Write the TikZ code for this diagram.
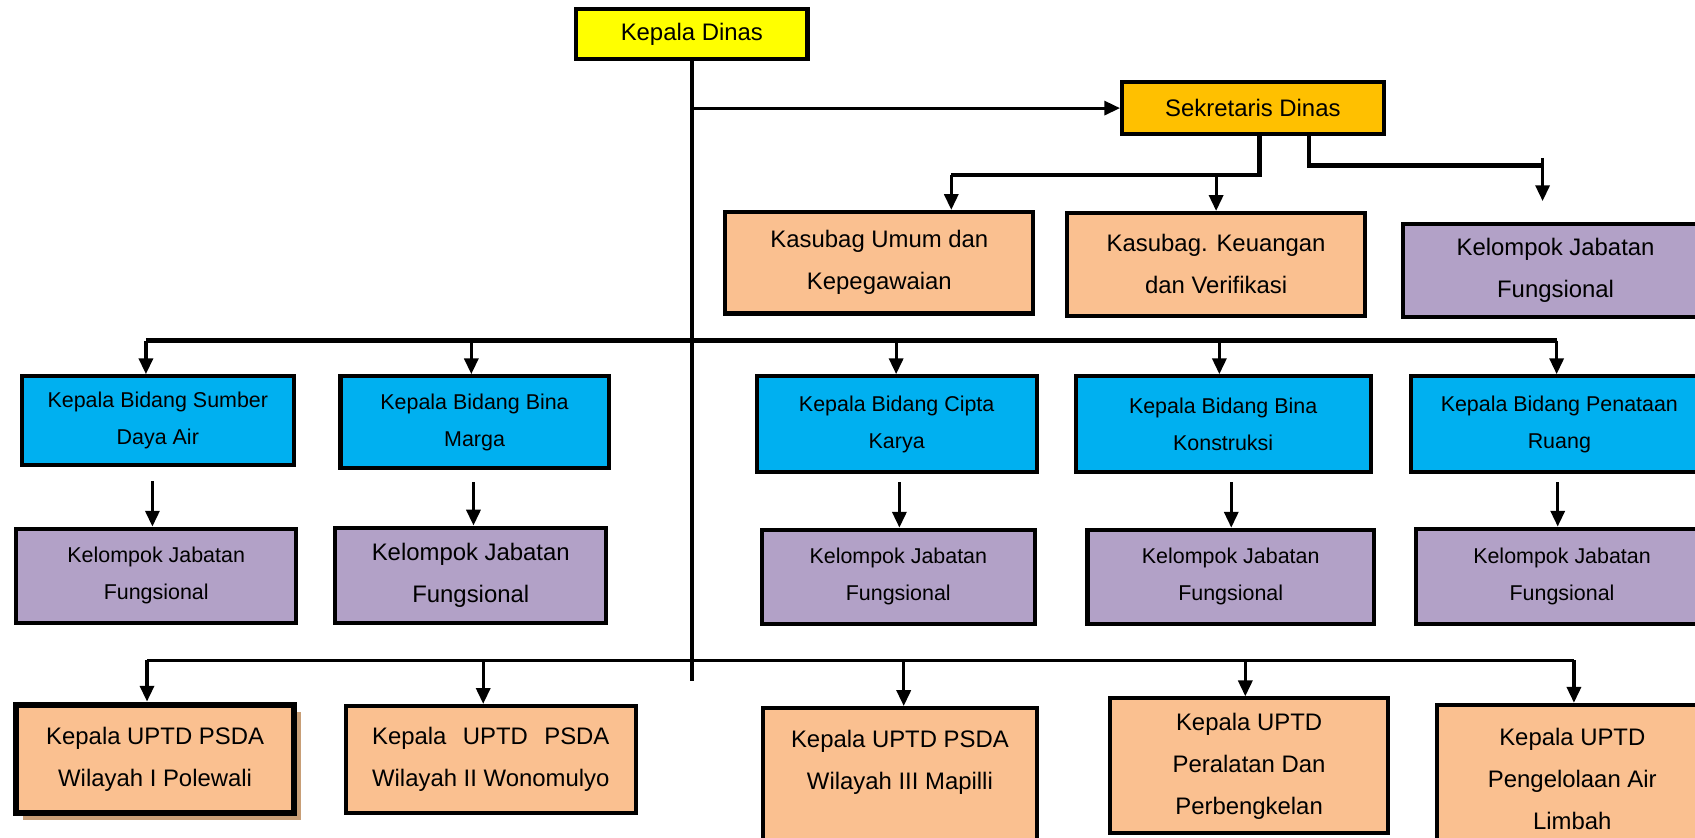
\documentclass[tikz,border=0pt]{standalone}
\usepackage{fontspec}
\setmainfont{Liberation Sans}
\usetikzlibrary{arrows.meta,shadows}

\definecolor{kdyellow}{RGB}{255,255,0}
\definecolor{sekorange}{RGB}{255,192,0}
\definecolor{peach}{RGB}{250,192,144}
\definecolor{lilac}{RGB}{178,161,199}
\definecolor{skyblue}{RGB}{0,176,240}
\definecolor{tanshadow}{RGB}{200,158,118}
\newlength\wonolen

\begin{document}
\begin{tikzpicture}[x=0.02162cm, y=-0.02162cm,
    box/.style={draw, line width=2.3pt, inner sep=0pt, align=center, font=\fontsize{13.6}{23.9}\selectfont},
    smallbox/.style={box, font=\fontsize{12.2}{20.9}\selectfont},
    wh/.style 2 args={minimum width=#1*0.02162cm, minimum height=#2*0.02162cm},
    wire/.style={line width=1.9pt},
    bus/.style={line width=2.9pt},
    arr/.style={-{Triangle[width=8pt,length=9pt]}, line width=1.8pt}]

    \useasboundingbox (0,0) rectangle (1568,775);
    \clip (0,0) rectangle (1568,775);

    % Top of the chart
    \node[box, fill=kdyellow, wh={214}{47}] (kd) at (640,31.5) {Kepala Dinas};
    \node[box, fill=sekorange, wh={242}{48}] (sd) at (1159,100) {Sekretaris Dinas};

    % Under the Sekretaris
    \node[box, fill=peach, wh={285}{94}] (ku) at (813.5,243) {Kasubag Umum dan\\Kepegawaian};
    \node[box, fill=peach, wh={276}{95}] (kk) at (1125,244.5) {Kasubag. Keuangan\\dan Verifikasi};
    \node[box, fill=lilac, wh={282}{86}] (kjf) at (1439,250) {Kelompok Jabatan\\Fungsional};

    % Kepala Bidang row
    \node[smallbox, fill=skyblue, wh={252}{82}] (sda) at (146,389) {Kepala Bidang Sumber\\Daya Air};
    \node[smallbox, fill=skyblue, wh={248}{85}] (bm) at (439,390.5) {Kepala Bidang Bina\\Marga};
    \node[smallbox, fill=skyblue, wh={259}{89}] (ck) at (829.5,392.5) {Kepala Bidang Cipta\\Karya};
    \node[smallbox, fill=skyblue, wh={273}{89}] (bk) at (1131.5,392.5) {Kepala Bidang Bina\\Konstruksi};
    \node[smallbox, fill=skyblue, wh={275}{89}] (pr) at (1442.5,392.5) {Kepala Bidang Penataan\\Ruang};

    % Kelompok Jabatan Fungsional row
    \node[smallbox, fill=lilac, wh={259}{87}] (fsda) at (144.5,532.5) {Kelompok Jabatan\\Fungsional};
    \node[box, fill=lilac, wh={251}{88}] (fbm) at (435.5,532) {Kelompok Jabatan\\Fungsional};
    \node[smallbox, fill=lilac, wh={252}{87}] (fck) at (831,533.5) {Kelompok Jabatan\\Fungsional};
    \node[smallbox, fill=lilac, wh={265}{87}] (fbk) at (1138.5,533.5) {Kelompok Jabatan\\Fungsional};
    \node[smallbox, fill=lilac, wh={270}{88}] (fpr) at (1445,533) {Kelompok Jabatan\\Fungsional};

    % UPTD row
    \node[box, fill=peach, line width=3.7pt, wh={257}{100},
        drop shadow={shadow xshift=4pt, shadow yshift=-4pt, fill=tanshadow, opacity=1}]
        (pol) at (143.5,702) {Kepala UPTD PSDA\\Wilayah I Polewali};
    \node[box, fill=peach, wh={268}{99}] (won) at (454,702.5)
        {\settowidth{\wonolen}{Wilayah II Wonomulyo}\makebox[\wonolen][s]{Kepala UPTD PSDA}\\Wilayah II Wonomulyo};
    \node[box, fill=peach, wh={253}{135}] (map) at (832.5,722.5) {Kepala UPTD PSDA\\Wilayah III Mapilli\\~};
    \node[box, fill=peach, wh={257}{125}] (per) at (1155.5,708.5) {Kepala UPTD\\Peralatan Dan\\Perbengkelan};
    \node[box, fill=peach, wh={251}{138}] (lim) at (1454.5,721) {Kepala UPTD\\Pengelolaan Air\\Limbah};

    % Trunk from Kepala Dinas
    \coordinate (trunk) at (640,630);
    \draw[wire] (kd.south) -- (trunk);
    \coordinate (t1) at (640,100);
    \draw[arr] (t1) -- (sd.west);

    % Branches of the Sekretaris
    \coordinate (s1) at (1165,162);
    \coordinate (s2) at (880,162);
    \coordinate (s3) at (1125,162);
    \draw[line width=2.6pt] (s1 |- sd.south) -- (s1) -- (s2);
    \draw[arr] (s2) -- (s2 |- ku.north);
    \draw[arr] (s3) -- (s3 |- kk.north);
    \coordinate (s4) at (1211,153);
    \coordinate (s5) at (1427,153);
    \coordinate (s6) at (1427,146);
    \coordinate (s7) at (1427,186);
    \draw[line width=2.6pt] (s4 |- sd.south) -- (s4) -- (s5);
    \draw[arr] (s6) -- (s7);

    % Bus to the Kepala Bidang
    \coordinate (b1) at (135,315);
    \coordinate (b2) at (436,315);
    \coordinate (b3) at (829,315);
    \coordinate (b4) at (1128,315);
    \coordinate (b5) at (1440,315);
    \draw[bus] (b1) -- (b5);
    \draw[arr] (b1) -- (b1 |- sda.north);
    \draw[arr] (b2) -- (b2 |- bm.north);
    \draw[arr] (b3) -- (b3 |- ck.north);
    \draw[arr] (b4) -- (b4 |- bk.north);
    \draw[arr] (b5) -- (b5 |- pr.north);

    % Loose arrows down to the Kelompok Jabatan
    \coordinate (m1) at (141,445);
    \coordinate (m2) at (438,446);
    \coordinate (m3) at (832,446);
    \coordinate (m4) at (1139,446);
    \coordinate (m5) at (1441,446);
    \draw[arr] (m1) -- (m1 |- fsda.north);
    \draw[arr] (m2) -- (m2 |- fbm.north);
    \draw[arr] (m3) -- (m3 |- fck.north);
    \draw[arr] (m4) -- (m4 |- fbk.north);
    \draw[arr] (m5) -- (m5 |- fpr.north);

    % Bus to the UPTD
    \coordinate (u1) at (136,611);
    \coordinate (u2) at (447,611);
    \coordinate (u3) at (836,611);
    \coordinate (u4) at (1152,611);
    \coordinate (u5) at (1456,611);
    \draw[line width=2pt] (u1) -- (u5);
    \draw[arr] (u1) -- (u1 |- pol.north);
    \draw[arr] (u2) -- (u2 |- won.north);
    \draw[arr] (u3) -- (u3 |- map.north);
    \draw[arr] (u4) -- (u4 |- per.north);
    \draw[arr] (u5) -- (u5 |- lim.north);

\end{tikzpicture}
\end{document}
